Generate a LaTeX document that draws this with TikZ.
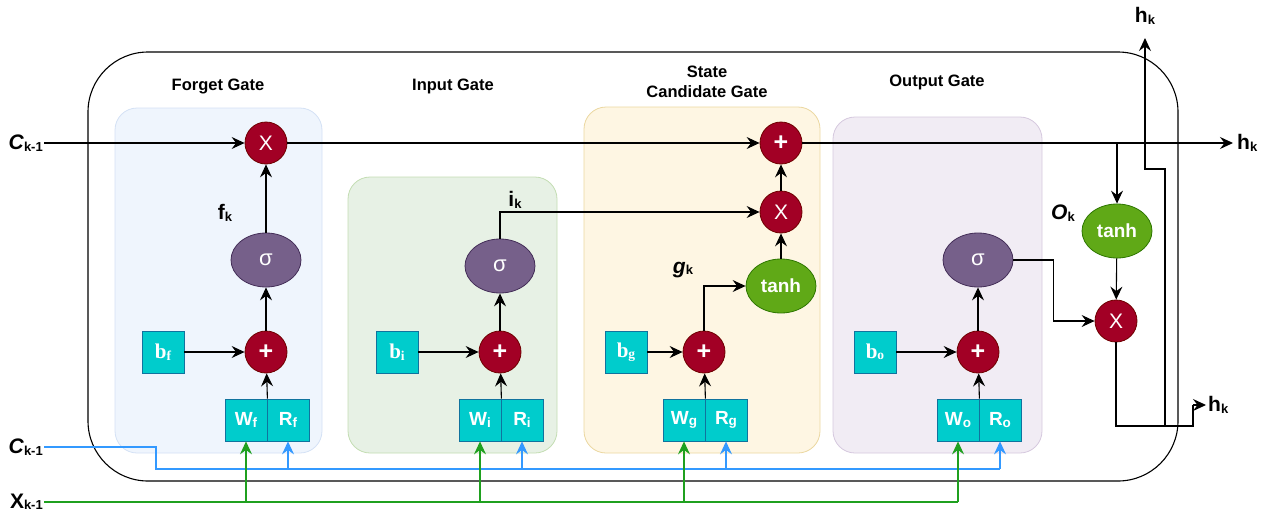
\documentclass[tikz,border=0pt]{standalone}
\usepackage{fontspec}
\setmainfont{Liberation Sans}
\newfontfamily\serifb{Liberation Serif}
\usetikzlibrary{arrows.meta,shapes.geometric}
\definecolor{redf}{HTML}{A20025}
\definecolor{redd}{HTML}{6F0000}
\definecolor{purf}{HTML}{76608A}
\definecolor{purd}{HTML}{432D57}
\definecolor{grnf}{HTML}{60A917}
\definecolor{grnd}{HTML}{2D7600}
\definecolor{tealc}{HTML}{00CCCC}
\definecolor{teald}{HTML}{10739E}
\definecolor{fgfill}{HTML}{EFF5FD}
\definecolor{fgdraw}{HTML}{D4E1F5}
\definecolor{igfill}{HTML}{E7F1E5}
\definecolor{igdraw}{HTML}{C3DDB2}
\definecolor{sgfill}{HTML}{FEF6E3}
\definecolor{sgdraw}{HTML}{EBD7A0}
\definecolor{ogfill}{HTML}{F1ECF4}
\definecolor{ogdraw}{HTML}{D5C8DE}
\definecolor{bline}{HTML}{3399FF}
\definecolor{gline}{HTML}{1FA01F}
\newcommand\sbx[1]{\raisebox{-1.5pt}{\fontsize{13}{13}\selectfont #1}}
\newcommand\sbb[1]{\raisebox{-1.5pt}{\fontsize{13.5}{14}\selectfont #1}}
\begin{document}
\begin{tikzpicture}[x=1pt,y=-1pt,
 op/.style={circle,draw=redd,fill=redf,minimum size=42pt,inner sep=0pt,text=white,line width=0.8pt,font=\fontsize{21}{22}\selectfont},
 opp/.style={op,font=\bfseries\fontsize{25}{25}\selectfont},
 act/.style={ellipse,minimum width=70pt,minimum height=54pt,inner sep=0pt,text=white,line width=0.8pt},
 sig/.style={act,draw=purd,fill=purf,font=\fontsize{22}{22}\selectfont},
 th/.style={act,draw=grnd,fill=grnf,font=\bfseries\fontsize{19}{19}\selectfont},
 wbox/.style={rectangle,draw=teald,fill=tealc,minimum size=42pt,inner sep=0pt,text=white,font=\bfseries\fontsize{19}{19}\selectfont,line width=0.8pt},
 bbox/.style={wbox,font=\bfseries\serifb\fontsize{21}{21}\selectfont},
 gate/.style={rounded corners=22pt,line width=0.8pt},
 arr/.style={-{Stealth[length=13pt,width=12pt,inset=4.5pt]},line width=1.1pt},
 ln/.style={line width=1.1pt},
 ttl/.style={font=\bfseries\fontsize{16.5}{20}\selectfont,align=center},
 lbl/.style={font=\bfseries\fontsize{21}{21}\selectfont,inner sep=1pt},
]
\useasboundingbox (0,0) rectangle (1267,512);
% gate backgrounds
\draw[gate,draw=fgdraw,fill=fgfill] (115,108) rectangle (322,453);
\draw[gate,draw=igdraw,fill=igfill] (348,177) rectangle (557,453);
\draw[gate,draw=sgdraw,fill=sgfill] (584,107) rectangle (820,453);
\draw[gate,draw=ogdraw,fill=ogfill] (833,117) rectangle (1042,453);
% outer cell
\draw[ln,rounded corners=60pt] (88,52) rectangle (1178,481);
% titles
\node[ttl] (tF) at (218,86) {Forget Gate};
\node[ttl] (tI) at (453,86) {Input Gate};
\node[ttl] (tS) at (707,82) {State\\Candidate Gate};
\node[ttl] (tO) at (937,82) {Output Gate};
% forget gate
\node[op] (fX) at (266,143) {X};
\node[sig] (fS) at (266,260) {σ};
\node[opp] (fP) at (266,352) {+};
\node[bbox] (fB) at (163,352) {b\sbb{f}};
\node[wbox] (fW) at (246,420) {W\sbb{f}};
\node[wbox] (fR) at (288,420) {R\sbb{f}};
\node[lbl] (fk) at (225,213) {f\sbx{k}};
% input gate
\node[sig] (iS) at (500,266) {σ};
\node[opp] (iP) at (500,352) {+};
\node[bbox] (iB) at (397,352) {b\sbb{i}};
\node[wbox] (iW) at (480,420) {W\sbb{i}};
\node[wbox] (iR) at (522,420) {R\sbb{i}};
\node[lbl] (ik) at (515,200) {i\sbx{k}};
% state candidate gate
\node[opp] (sP) at (781,143) {+};
\node[op] (sX) at (781,212) {X};
\node[th] (sT) at (781,286) {tanh};
\node[opp] (sQ) at (704,352) {+};
\node[bbox] (sB) at (626,352) {b\sbb{g}};
\node[wbox] (sW) at (684,420) {W\sbb{g}};
\node[wbox] (sR) at (726,420) {R\sbb{g}};
\node[lbl] (gk) at (683,270) {\textit{g}\sbx{k}};
% output gate
\node[sig] (oS) at (978,260) {σ};
\node[opp] (oP) at (978,352) {+};
\node[bbox] (oB) at (875,352) {b\sbb{o}};
\node[wbox] (oW) at (958,420) {W\sbb{o}};
\node[wbox] (oR) at (1000,420) {R\sbb{o}};
\node[lbl] (ok) at (1063,213) {\textit{O}\sbx{k}};
% output stage
\node[th] (rT) at (1117,231) {tanh};
\node[op] (rX) at (1116,321) {X};
% external labels
\node[lbl,anchor=east] (cA) at (44,143) {\textit{C}\sbx{k-1}};
\node[lbl,anchor=east] (cB) at (44,447) {\textit{C}\sbx{k-1}};
\node[lbl,anchor=east] (xB) at (44,502) {X\sbx{k-1}};
\node[lbl,anchor=west] (hR) at (1236,143) {h\sbx{k}};
\node[lbl] (hT) at (1145,16) {h\sbx{k}};
\node[lbl,anchor=west] (hB) at (1207,405) {h\sbx{k}};
% coordinates
\coordinate (cEnd) at (1233,143);
\coordinate (jT) at (1117,143);
\coordinate (b1) at (1116,426);
\coordinate (b2) at (1193,426);
\coordinate (b3) at (1193,405);
\coordinate (b4) at (1206,405);
\coordinate (u1) at (1165,426);
\coordinate (u2) at (1165,169);
\coordinate (u3) at (1145,169);
\coordinate (u4) at (1145,38);
% forget gate connectors
\draw[arr] (cA.east) -- (fX);
\draw[arr] (fB) -- (fP);
\draw[arr] (fW.north east) -- (fP);
\draw[arr] (fP) -- (fS);
\draw[arr] (fS) -- (fX);
% cell state line
\draw[arr] (fX) -- (sP);
\draw[arr] (sP) -- (cEnd);
% input gate
\draw[arr] (iB) -- (iP);
\draw[arr] (iW.north east) -- (iP);
\draw[arr] (iP) -- (iS);
\draw[arr] (iS.north) |- (sX.west);
% state candidate
\draw[arr] (sB) -- (sQ);
\draw[arr] (sW.north east) -- (sQ);
\draw[arr] (sQ.north) |- (sT.west);
\draw[arr] (sT) -- (sX);
\draw[arr] (sX) -- (sP);
% output gate
\draw[arr] (oB) -- (oP);
\draw[arr] (oW.north east) -- (oP);
\draw[arr] (oP) -- (oS);
\draw[arr] (oS.east) -- ++(40,0) |- (rX.west);
% output stage
\draw[arr] (jT) -- (rT);
\draw[arr] (rT) -- (rX);
\draw[ln] (rX.south) -- (b1) -- (b2) -- (b3);
\draw[arr] (b3) -- (b4);
\draw[arr] (u1) -- (u2) -- (u3) -- (u4);
% blue recurrent input
\draw[ln,draw=bline] (cB.east) -- (156,447) -- (156,469) -- (1000,469);
\draw[arr,draw=bline] (288,469) -- (fR.south);
\draw[arr,draw=bline] (522,469) -- (iR.south);
\draw[arr,draw=bline] (726,469) -- (sR.south);
\draw[arr,draw=bline] (1000,469) -- (oR.south);
% green input
\draw[ln,draw=gline] (xB.east) -- (958,502);
\draw[arr,draw=gline] (246,502) -- (fW.south);
\draw[arr,draw=gline] (480,502) -- (iW.south);
\draw[arr,draw=gline] (684,502) -- (sW.south);
\draw[arr,draw=gline] (958,502) -- (oW.south);
\end{tikzpicture}
\end{document}
